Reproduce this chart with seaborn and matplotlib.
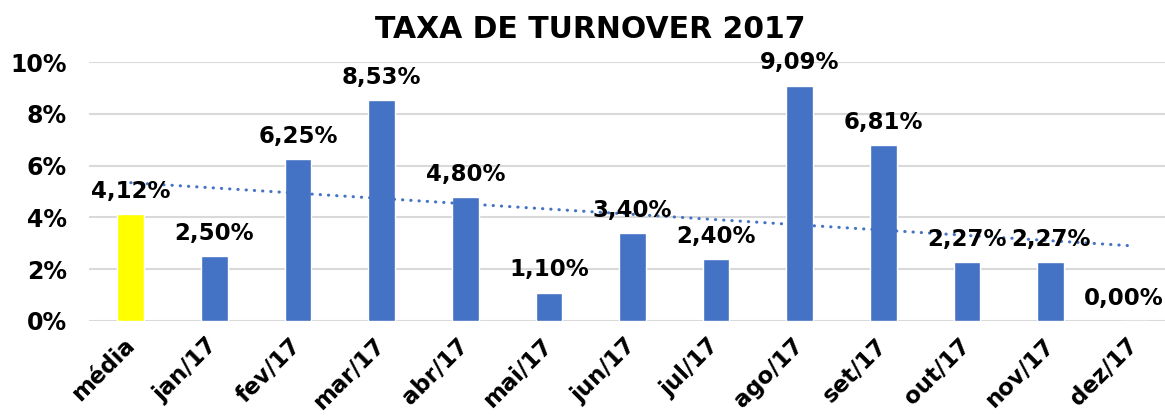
import numpy as np
import matplotlib
matplotlib.use('Agg')
import matplotlib.pyplot as plt
import seaborn as sns

# Dados
meses = ['média', 'jan/17', 'fev/17', 'mar/17', 'abr/17', 'mai/17', 'jun/17',
         'jul/17', 'ago/17', 'set/17', 'out/17', 'nov/17', 'dez/17']
taxas = [4.12, 2.50, 6.25, 8.53, 4.80, 1.10, 3.40, 2.40, 9.09, 6.81, 2.27, 2.27, 0.00]
cores = ['#FFFF00'] + ['#4472C4'] * 12
yticks = [0, 2, 4, 6, 8, 10]

sns.set_style('white')
plt.rcParams['font.family'] = ['DejaVu Sans']
plt.rcParams['text.color'] = 'black'
plt.rcParams['xtick.color'] = 'black'
plt.rcParams['ytick.color'] = 'black'

fig = plt.figure(figsize=(11.65, 4.16), dpi=100)
ax = fig.add_axes([89 / 1165, 95 / 416, 1087 / 1165, 259 / 416])

sns.barplot(x=meses, y=taxas, hue=meses, palette=cores, legend=False,
            width=0.32, saturation=1, ax=ax, zorder=2)

# linha de tendencia linear
sns.regplot(x=np.arange(len(taxas)), y=taxas, ci=None, scatter=False,
            truncate=True, ax=ax,
            line_kws=dict(color='#4472C4', lw=2.2, linestyle=(0, (0.1, 2.6)),
                          dash_capstyle='round', zorder=3))

for i, v in enumerate(taxas):
    dx = -10 if i == len(taxas) - 1 else 0
    ax.annotate(f'{v:.2f}'.replace('.', ',') + '%', (i, v),
                xytext=(dx * 0.72, 8), textcoords='offset points',
                ha='center', va='bottom', fontsize=16.5, fontweight='bold',
                color='black', zorder=4)

ax.set_xlim(-0.5, len(meses) - 0.5)
ax.set_ylim(0, 10)
ax.set_yticks(yticks)
ax.set_yticklabels([f'{t}%' for t in yticks], fontsize=17, fontweight='bold')
ax.set_xticks(range(len(meses)))
ax.set_xticklabels(meses, fontsize=16.5, fontweight='bold', rotation=45,
                   ha='right', va='center', rotation_mode='anchor')
ax.tick_params(axis='y', length=0, pad=16)
ax.tick_params(axis='x', length=0, pad=15)
ax.set_xlabel('')
ax.set_ylabel('')
ax.grid(axis='y', color='#D9D9D9', lw=1.5)
ax.set_axisbelow(True)
sns.despine(ax=ax, left=True, bottom=True)

fig.text(590 / 1165, 1 - 29 / 416, 'TAXA DE TURNOVER 2017', ha='center',
         va='center', fontsize=21.5, fontweight='bold', color='black')

fig.savefig('out.png', dpi=100)
